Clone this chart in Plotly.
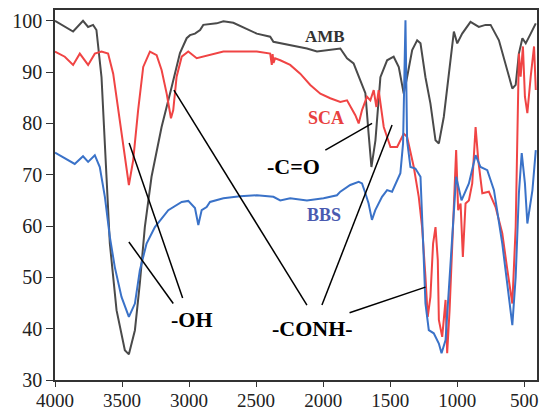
import plotly.graph_objects as go

# ---- data (wavenumber cm-1, transmittance %) ----
amb_wn = [4000, 3865, 3791, 3753, 3716, 3691, 3653, 3628, 3591, 3541, 3479, 3449, 3404, 3367,
          3330, 3280, 3205, 3130, 3068, 3018, 2993, 2956, 2918, 2894, 2794, 2744, 2670, 2495,
          2395, 2371, 2246, 2121, 2046, 1947, 1872, 1822, 1773, 1723, 1685, 1661, 1640, 1610,
          1573, 1523, 1474, 1436, 1411, 1399, 1374, 1336, 1299, 1274, 1237, 1200, 1162, 1137,
          1100, 1063, 1025, 1000, 963, 901, 839, 789, 751, 689, 639, 589, 564, 540, 514, 489,
          452, 414]
amb_val = [100, 97.9, 100, 98.8, 99.2, 98.2, 89, 76, 56.6, 43.6, 35.8, 35, 39.7, 48.9,
           59.8, 69.6, 79.3, 87.1, 93.7, 96.6, 97.2, 97.5, 98.2, 99.2, 99.5, 99.9, 99.6, 97.5,
           96.9, 95.9, 95.3, 94.6, 94, 94.3, 94.6, 92.7, 91.7, 88.4, 85.9, 78, 71.5, 76.7,
           89, 92.3, 93, 91, 87.1, 85.8, 89, 94.3, 96.2, 95.6, 89, 83.9, 76.7, 76.1,
           81.3, 89, 97.9, 95.6, 97.5, 99.8, 98.8, 99.2, 99.2, 96.2, 91.7, 86.8, 87.5, 93.6,
           96.6, 95.6, 97.5, 99.5]

sca_wn = [4000, 3927, 3865, 3815, 3753, 3703, 3653, 3604, 3566, 3529, 3492, 3466, 3449, 3417,
          3380, 3342, 3292, 3242, 3205, 3167, 3135, 3118, 3093, 3055, 3006, 2943, 2844, 2744,
          2495, 2395, 2383, 2377, 2370, 2358, 2320, 2246, 2171, 2096, 2021, 1947, 1872, 1822,
          1760, 1735, 1710, 1673, 1648, 1623, 1603, 1586, 1548, 1498, 1448, 1399, 1374, 1324,
          1287, 1262, 1237, 1220, 1200, 1180, 1162, 1145, 1137, 1112, 1087, 1075, 1057, 1037,
          1008, 993, 975, 958, 938, 913, 888, 863, 843, 813, 764, 714, 664, 626, 589, 564,
          552, 540, 527, 510, 495, 477, 452, 427, 414]
sca_val = [94, 93, 91.4, 93.6, 91.4, 93.6, 94, 93.6, 89.7, 82.6, 76.1, 70.9, 68, 72.8,
           82.6, 91, 94, 93.3, 90.4, 85.8, 81, 82.6, 89.1, 93, 94, 92.7, 93.3, 94,
           94, 93.6, 91.4, 93.5, 91.8, 92.7, 92.3, 91.4, 89.7, 87.5, 85.8, 84.9, 84.2, 84.5,
           81.6, 80, 82.6, 85.2, 84.5, 86.5, 83.2, 86.5, 79.3, 75.4, 75.4, 78, 77.4, 71.5,
           65.7, 59.8, 50.1, 42.3, 46.2, 56.6, 59.8, 53.4, 41.7, 38.4, 45.6, 35.2, 43.6, 56.6,
           74.8, 63.1, 64.4, 54, 64.4, 65, 68.3, 79.3, 72.8, 66.4, 66.7, 63.7, 58.6, 51.4, 44.9, 59.8,
           81.3, 93.6, 89.1, 95, 85.2, 82, 89.1, 95, 86.5]

bbs_wn = [4000, 3927, 3853, 3791, 3753, 3703, 3666, 3628, 3591, 3554, 3504, 3449, 3404, 3367,
          3317, 3255, 3155, 3055, 3006, 2956, 2931, 2906, 2869, 2844, 2744, 2620, 2495, 2371,
          2320, 2246, 2121, 1997, 1897, 1872, 1798, 1735, 1710, 1685, 1661, 1636, 1611, 1561,
          1523, 1486, 1461, 1424, 1404, 1386, 1374, 1349, 1312, 1274, 1254, 1237, 1212, 1175,
          1137, 1117, 1087, 1063, 1033, 1008, 968, 913, 863, 826, 776, 726, 664, 626, 589,
          564, 540, 519, 495, 477, 439, 414]
bbs_val = [74.3, 73.2, 72.1, 73.6, 72.5, 73.8, 71.5, 65.7, 57.9, 52, 46.2, 42.3, 44.9, 51.4,
           56.6, 59.8, 63.1, 64.7, 64.9, 63.5, 60.2, 63.1, 63.7, 64.7, 65.4, 65.8, 66, 65.7,
           65, 65.4, 65, 65.4, 66, 66.7, 68, 68.6, 68.3, 66.4, 64.4, 61.2, 63.1, 65.7,
           67, 66.7, 68.3, 70.3, 76.1, 100.1, 76.7, 71.5, 71.2, 69.6, 56.6, 44.9, 39.7, 39.1,
           37.1, 35.2, 37.8, 46.9, 59.8, 69.6, 65, 68.3, 73.8, 71.5, 70.9, 67, 56.6, 48.8, 40.7,
           50.1, 66.4, 74.2, 68.3, 60.5, 67, 74.8]

x_ticks = [4000, 3500, 3000, 2500, 2000, 1500, 1000, 500]
y_ticks = [30, 40, 50, 60, 70, 80, 90, 100]

# series labels
series_labels = ["AMB", "SCA", "BBS"]
series_label_pos = [(1984, 97.0), (1977, 81.0), (1992, 62.1)]

# group labels and pointer lines
group_labels = ["-OH", "-CONH-", "-C=O"]
group_label_pos = [(2978, 41.8), (2081, 40.1), (2222, 71.7)]
pointer_lines = [
    (3447, 76.2, 3048, 46.0),
    (3449, 56.9, 3118, 44.9),
    (3113, 86.5, 2121, 44.6),
    (1486, 79.7, 2009, 44.6),
    (1803, 43.1, 1237, 48.1),
    (1984, 74.8, 1635, 80.0),
]

AMB_C = "#4a4a4a"
SCA_C = "#f04444"
BBS_C = "#3a72c8"
FONT = "Liberation Serif"

fig = go.Figure()
fig.add_trace(go.Scatter(x=amb_wn, y=amb_val, mode="lines", line=dict(color=AMB_C, width=2), name="AMB"))
fig.add_trace(go.Scatter(x=sca_wn, y=sca_val, mode="lines", line=dict(color=SCA_C, width=2), name="SCA"))
fig.add_trace(go.Scatter(x=bbs_wn, y=bbs_val, mode="lines", line=dict(color=BBS_C, width=2), name="BBS"))

for (x0, y0, x1, y1) in pointer_lines:
    fig.add_shape(type="line", x0=x0, y0=y0, x1=x1, y1=y1, xref="x", yref="y",
                  line=dict(color="black", width=1.5))

label_colors = ["#333333", "#e84040", "#4a5ab0"]
label_sizes = [17, 18, 18]
for t, (x, y), c, s in zip(series_labels, series_label_pos, label_colors, label_sizes):
    fig.add_annotation(x=x, y=y, text="<b>%s</b>" % t, showarrow=False,
                       font=dict(family=FONT, size=s, color=c))

for t, (x, y) in zip(group_labels, group_label_pos):
    fig.add_annotation(x=x, y=y, text="<b>%s</b>" % t, showarrow=False,
                       font=dict(family=FONT, size=22, color="black"))

fig.update_layout(
    width=541, height=412,
    margin=dict(l=55, r=4, t=10, b=32, autoexpand=False),
    paper_bgcolor="white", plot_bgcolor="white",
    showlegend=False,
    font=dict(family=FONT, size=20, color="#222222"),
)
fig.update_xaxes(range=[4000, 405], tickvals=x_ticks, ticktext=[str(v) for v in x_ticks],
                 showgrid=False, zeroline=False, showline=True, mirror=True,
                 linecolor="#333333", linewidth=1.5, ticks="outside", ticklen=5,
                 ticklabelstandoff=-3,
                 tickcolor="#333333", tickfont=dict(family=FONT, size=19, color="#222222"),
                 automargin=False)
fig.update_yaxes(range=[30, 102.1], tickvals=y_ticks, ticktext=[str(v) for v in y_ticks],
                 showgrid=False, zeroline=False, showline=True, mirror=True,
                 linecolor="#333333", linewidth=1.5, ticks="outside", ticklen=7,
                 tickcolor="#333333", tickfont=dict(family=FONT, size=20, color="#222222"),
                 automargin=False)

fig.write_html("out.html", config={"displayModeBar": False},
               post_script="document.body.style.margin='0';document.body.style.overflow='hidden';")
